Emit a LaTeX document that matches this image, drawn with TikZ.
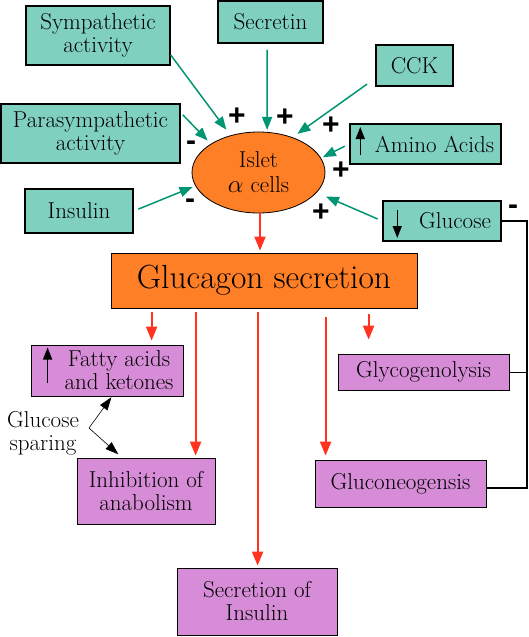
\documentclass[tikz,border=0pt]{standalone}
\usepackage{fontspec}
\newfontfamily\signfont{Liberation Sans}
\usetikzlibrary{arrows.meta,calc,shapes.geometric}
\definecolor{tealfill}{RGB}{128,208,192}
\definecolor{purplefill}{RGB}{214,140,214}
\definecolor{cellorange}{RGB}{255,127,39}
\definecolor{stimgreen}{RGB}{0,150,115}
\definecolor{effectred}{RGB}{255,51,32}
\tikzstyle{factor} = [draw, line width=1.5pt, fill=tealfill, align=center, inner sep=0pt, font=\fontsize{23}{23}\selectfont]
\tikzstyle{effect} = [draw, line width=0.8pt, fill=purplefill, align=center, inner sep=0pt, font=\fontsize{23}{23}\selectfont]
\tikzstyle{alphacell} = [ellipse, draw, line width=0.8pt, fill=cellorange, align=center, inner sep=0pt, font=\fontsize{23}{25}\selectfont]
\tikzstyle{hormone} = [draw, line width=0.8pt, fill=cellorange, inner sep=0pt, font=\fontsize{33.5}{34}\selectfont]
\tikzstyle{stim} = [-{Triangle[width=10pt,length=13pt]}, line width=1.5pt, stimgreen]
\tikzstyle{action} = [-{Triangle[width=11pt,length=14pt]}, line width=2pt, effectred]
\tikzstyle{sign} = [inner sep=0pt, font=\signfont\bfseries\fontsize{30}{30}\selectfont]
\tikzstyle{updown} = [-{Triangle[width=9pt,length=12pt]}, line width=1.5pt]
\tikzstyle{spare} = [-{Triangle[width=9pt,length=13pt]}, line width=0.6pt]

\begin{document}
\begin{tikzpicture}[x=1pt, y=-1pt]
    \useasboundingbox (0,0) rectangle (529,637);

    % regulators
    \node[factor, minimum width=144, minimum height=59] (symp) at (98,35.5) {Sympathetic\\activity};
    \node[factor, minimum width=105, minimum height=42] (secretin) at (270.5,22) {Secretin};
    \node[factor, minimum width=77, minimum height=41] (cck) at (414.5,65.5) {CCK};
    \node[factor, minimum width=179, minimum height=59] (para) at (90.5,133.5) {Parasympathetic\\activity};
    \node[factor, minimum width=108, minimum height=44] (insulin) at (79,211) {Insulin};
    \node[factor, minimum width=151, minimum height=40] (amino) at (425.5,144) {\hspace*{18pt}Amino Acids};
    \node[factor, minimum width=118, minimum height=40] (glucose) at (442,221) {\hspace*{26pt}Glucose};

    \node[alphacell, minimum width=133, minimum height=81] (islet) at (258.5,172.5) {Islet\\$\alpha$ cells};
    \node[hormone, minimum width=306, minimum height=55] (gluc) at (264,280.5) {Glucagon secretion};

    % effects
    \node[effect, minimum width=152, minimum height=51] (fatty) at (107,370.5) {\hspace*{24pt}Fatty acids\\\hspace*{24pt}and ketones};
    \node[effect, minimum width=171, minimum height=36] (glyco) at (423.5,372) {Glycogenolysis};
    \node[effect, minimum width=138, minimum height=66] (inhib) at (146,491) {Inhibition of\\anabolism};
    \node[effect, minimum width=171, minimum height=47] (gneo) at (400.5,483.5) {Gluconeogensis};
    \node[effect, minimum width=160, minimum height=67] (secins) at (257,601.5) {Secretion of\\Insulin};

    \node[font=\fontsize{23}{23}\selectfont, align=center, inner sep=0pt] (sparing) at (43,433) {Glucose\\sparing};

    % arrows inside the boxes
    \draw[updown] ($(amino.west)+(11,11)$) -- ($(amino.west)+(11,-17)$);
    \draw[updown] ($(glucose.west)+(15,-11)$) -- ($(glucose.west)+(15,17)$);
    \draw[updown] ($(fatty.west)+(17,12.5)$) -- ($(fatty.west)+(17,-23)$);

    % inputs to the islet
    \draw[stim, shorten >=7pt] (symp.-15) -- (islet.127);
    \draw[stim, shorten <=6pt, shorten >=2pt] ([xshift=-3.5pt]secretin.south) -- (islet.78);
    \draw[stim, shorten <=10pt, shorten >=6pt] (cck.198) -- (islet.46);
    \draw[stim, shorten <=3pt, shorten >=4.5pt] (para.13) -- (islet.149);
    \draw[stim, shorten <=5pt, shorten >=3pt] (insulin.east) -- (islet.192);
    \draw[stim, shorten <=5pt, shorten >=2pt] (amino.west) -- (islet.13);
    \draw[stim, shorten <=5pt, shorten >=10pt] (glucose.west) -- (islet.-19);

    \node[sign] (p1) at (237,117) {+};
    \node[sign] (p2) at (285,118) {+};
    \node[sign] (p3) at (331,126) {+};
    \node[sign] (p4) at (341,171) {+};
    \node[sign] (p5) at (321,213) {+};
    \node[sign] (m1) at (191,146) {-};
    \node[sign] (m2) at (190,204) {-};
    \node[sign] (m3) at (513,210) {-};

    % glucagon and its actions
    \draw[action, shorten >=2pt] ([xshift=1.5pt]islet.south) -- ([xshift=1.5pt]islet.south |- gluc.north);
    \coordinate (r1) at ($(gluc.south west)+(41,0)$);
    \coordinate (r2) at ($(gluc.south west)+(85,0)$);
    \coordinate (r3) at ($(gluc.south west)+(147,0)$);
    \coordinate (r4) at ($(gluc.south west)+(215,0)$);
    \coordinate (r5) at ($(gluc.south west)+(258,0)$);
    \draw[action, shorten <=4pt, shorten >=4pt] (r1) -- (r1 |- fatty.north);
    \draw[action, shorten <=4pt, shorten >=2pt] (r2) -- (r2 |- inhib.north);
    \draw[action, shorten <=4pt, shorten >=2pt] (r3) -- (r3 |- secins.north);
    \draw[action, shorten <=9pt, shorten >=4pt] (r4) -- (r4 |- gneo.north);
    \draw[action, shorten <=6pt, shorten >=14pt] (r5) -- (r5 |- glyco.north);

    % glucose feedback
    \draw[line width=2pt] (glucose.east) -- ++(25,0) |- ([yshift=-4.5pt]gneo.east);
    \draw[line width=1pt] (glyco.east) -- ++(17,0);

    % glucose sparing
    \coordinate (bend) at (89,428);
    \draw[spare, shorten >=1pt] (bend) -- ([xshift=5pt]fatty.south);
    \draw[spare, shorten >=5pt] (bend) -- ([xshift=-24pt]inhib.north);
\end{tikzpicture}
\end{document}
